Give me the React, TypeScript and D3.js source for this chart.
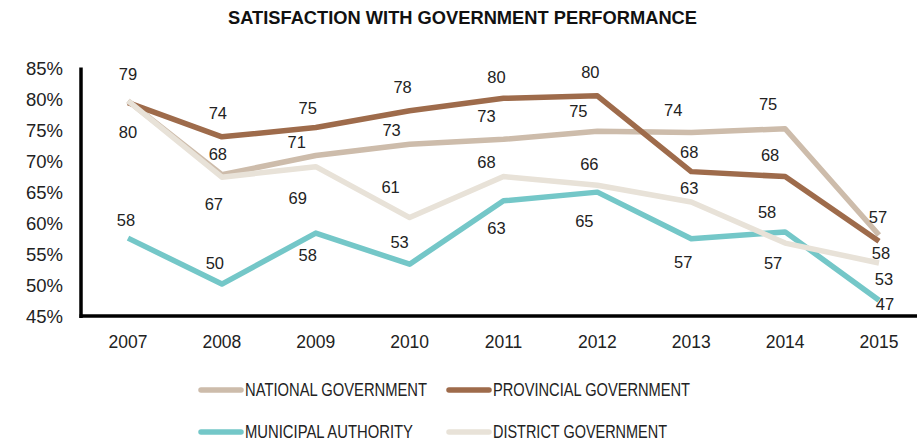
import React from "react";
import * as d3 from "d3";

const years = ["2007", "2008", "2009", "2010", "2011", "2012", "2013", "2014", "2015"];
const yTicks = [45, 50, 55, 60, 65, 70, 75, 80, 85];

const nationalValues = [79.8, 67.9, 71.0, 72.8, 73.6, 74.9, 74.7, 75.3, 58.2];
const provincialValues = [79.5, 74.0, 75.5, 78.2, 80.2, 80.6, 68.4, 67.6, 57.2];
const municipalValues = [57.7, 50.3, 58.5, 53.5, 63.7, 65.1, 57.6, 58.7, 47.7];
const districtValues = [79.8, 67.5, 69.2, 61.0, 67.6, 66.2, 63.5, 56.9, 53.7];

const nationalLabels = ["80", "68", "71", "73", "73", "75", "74", "75", "57"];
const provincialLabels = ["79", "74", "75", "78", "80", "80", "68", "68", "58"];
const municipalLabels = ["58", "50", "58", "53", "63", "65", "57", "58", "47"];
const districtLabels = ["", "67", "69", "61", "68", "66", "63", "57", "53"];

// label placement offsets relative to each point (layout, px)
const nationalLabelDx = [0, -4, -19, -18, -17, -19, -18, -17, -1];
const nationalLabelDy = [31, -21, -13, -14, -23, -20, -22, -25, -18];
const provincialLabelDx = [0, -4, -8, -7, -7, -7, -2, -15, 2];
const provincialLabelDy = [-28, -24, -19, -24, -21, -24, -19, -21, 12];
const municipalLabelDx = [-2, -7, -8, -10, -7, -13, -8, -18, 6];
const municipalLabelDy = [-18, -21, 22, -22, 27, 29, 24, -20, 4];
const districtLabelDx = [0, -8, -18, -19, -17, -8, -2, -12, 5];
const districtLabelDy = [0, 27, 32, -30, -14, -21, -14, 20, 16];

const series = [
  { name: "NATIONAL GOVERNMENT", values: nationalValues, labels: nationalLabels, dx: nationalLabelDx, dy: nationalLabelDy, color: "#cdbcab" },
  { name: "PROVINCIAL GOVERNMENT", values: provincialValues, labels: provincialLabels, dx: provincialLabelDx, dy: provincialLabelDy, color: "#9e6b4b" },
  { name: "MUNICIPAL AUTHORITY", values: municipalValues, labels: municipalLabels, dx: municipalLabelDx, dy: municipalLabelDy, color: "#74c7c8" },
  { name: "DISTRICT GOVERNMENT", values: districtValues, labels: districtLabels, dx: districtLabelDx, dy: districtLabelDy, color: "#e8e2d8" },
];

const W = 917;
const H = 442;
const FONT = "'Liberation Sans', Arial, sans-serif";
const NARROW = "'Liberation Sans Narrow', 'Arial Narrow', 'Liberation Sans', sans-serif";

export default function App() {
  const x = d3.scalePoint<string>().domain(years).range([128, 879]);
  const y = d3.scaleLinear().domain([45, 85]).range([317, 68.5]);
  const line = d3
    .line<number>()
    .x((_, i) => x(years[i]) as number)
    .y((d) => y(d));

  const legendPos = [
    { lx: 199, ly: 390, tw: 182 },
    { lx: 447, ly: 390, tw: 197 },
    { lx: 199, ly: 432, tw: 168 },
    { lx: 447, ly: 432, tw: 174 },
  ];

  return (
    <svg
      width={W}
      height={H}
      viewBox={`0 0 ${W} ${H}`}
      style={{ position: "absolute", left: 0, top: 0, background: "#fff" }}
      fontFamily={FONT}
    >
      <rect width={W} height={H} fill="#fff" />
      <text x={462.5} y={18} dy="0.35em" textAnchor="middle" fontSize={18.5} fontWeight="bold" fill="#111" textLength={469} lengthAdjust="spacingAndGlyphs">
        SATISFACTION WITH GOVERNMENT PERFORMANCE
      </text>

      {yTicks.map((t) => (
        <text key={t} x={63} y={y(t)} dy="0.35em" textAnchor="end" fontSize={18.5} fill="#222">
          {t}%
        </text>
      ))}
      {years.map((yr) => (
        <text key={yr} x={x(yr)} y={342} dy="0.35em" textAnchor="middle" fontSize={17.5} fill="#222">
          {yr}
        </text>
      ))}

      {series.map((s) => (
        <path
          key={s.name}
          d={line(s.values) || ""}
          fill="none"
          stroke={s.color}
          strokeWidth={5.5}
          strokeLinejoin="round"
          strokeLinecap="butt"
        />
      ))}

      <line x1={81} x2={81} y1={67.5} y2={318} stroke="#000" strokeWidth={3.5} />
      <line x1={79.5} x2={917} y1={316} y2={316} stroke="#000" strokeWidth={3.5} />

      {series.map((s) =>
        s.values.map((v, i) =>
          s.labels[i] ? (
            <text
              key={s.name + i}
              x={(x(years[i]) as number) + s.dx[i]}
              y={y(v) + s.dy[i]}
              dy="0.35em"
              textAnchor="middle"
              fontSize={16.5}
              fill="#222"
            >
              {s.labels[i]}
            </text>
          ) : null
        )
      )}

      {series.map((s, i) => (
        <g key={s.name}>
          <line
            x1={legendPos[i].lx + 2}
            x2={legendPos[i].lx + 42}
            y1={legendPos[i].ly}
            y2={legendPos[i].ly}
            stroke={s.color}
            strokeWidth={5.5}
            strokeLinecap="round"
          />
          <text
            x={legendPos[i].lx + 46}
            y={legendPos[i].ly}
            dy="0.35em"
            fontSize={18.5}
            fontFamily={NARROW}
            fill="#222"
            textLength={legendPos[i].tw}
            lengthAdjust="spacingAndGlyphs"
          >
            {s.name}
          </text>
        </g>
      ))}
    </svg>
  );
}
